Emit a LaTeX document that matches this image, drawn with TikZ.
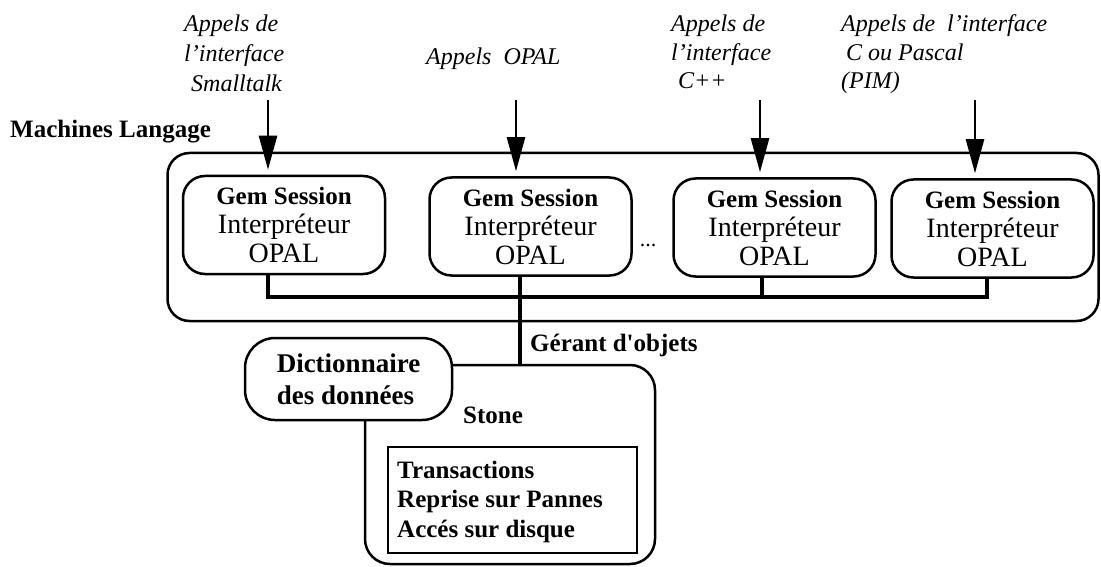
\documentclass[tikz,border=0pt]{standalone}
\usepackage{fontspec}
\setmainfont{Liberation Serif}
\usetikzlibrary{arrows.meta}
\begin{document}
\begin{tikzpicture}[x=1pt,y=-1pt,
  lbl/.style={font=\fontsize{24}{29}\selectfont\itshape, inner sep=0pt, anchor=base west},
  bl/.style={font=\fontsize{25}{29}\selectfont\bfseries, inner sep=0pt, anchor=base west},
  gem/.style={draw, line width=2.5pt, rounded corners=22pt, minimum width=202pt, minimum height=98pt, inner sep=0pt, align=center, font=\fontsize{28}{29}\selectfont},
  frame/.style={draw, line width=2.5pt, inner sep=0pt},
  arr/.style={line width=2.5pt, -{Triangle[length=34pt,width=18pt]}, shorten >=5pt},
  wire/.style={line width=4pt},
]
\useasboundingbox (0,0) rectangle (1101,567);

% outer container
\node[frame, rounded corners=22pt, minimum width=931pt, minimum height=168pt] (lang) at (633,237) {};
\node[bl] (mlang) at (10,138) {Machines Langage};

% gem sessions
\node[gem] (g1) at (284,225) {{\bfseries\fontsize{25}{29}\selectfont Gem Session}\\Interpréteur\\OPAL};
\node[gem] (g2) at (530.5,226.5) {{\bfseries\fontsize{25}{29}\selectfont Gem Session}\\Interpréteur\\OPAL};
\node[gem] (g3) at (774.5,227.5) {{\bfseries\fontsize{25}{29}\selectfont Gem Session}\\Interpréteur\\OPAL};
\node[gem] (g4) at (992.5,228.5) {{\bfseries\fontsize{25}{29}\selectfont Gem Session}\\Interpréteur\\OPAL};
\node[font=\fontsize{22}{26}\selectfont, inner sep=0pt, anchor=base] (dots) at (648,246) {...};

% top labels
\node[lbl] (l1a) at (184,32) {Appels de};
\node[lbl] (l1b) at (184,62) {l’interface};
\node[lbl] (l1c) at (191,92) {Smalltalk};
\node[lbl] (l2a) at (426,65) {Appels\ \ OPAL};
\node[lbl] (l3a) at (671,32) {Appels de};
\node[lbl] (l3b) at (671,61) {l’interface};
\node[lbl] (l3c) at (678,89) {C++};
\node[lbl] (l4a) at (841,32) {Appels de\ \ l’interface};
\node[lbl] (l4b) at (846,61) {C ou Pascal};
\node[lbl] (l4c) at (841,89) {(PIM)};

% arrows
\coordinate (a1) at (268,100);
\coordinate (a2) at (516,100);
\coordinate (a3) at (760,100);
\coordinate (a4) at (975,100);
\draw[arr] (a1) -- (a1 |- g1.north);
\draw[arr] (a2) -- (a2 |- g2.north);
\draw[arr] (a3) -- (a3 |- g3.north);
\draw[arr] (a4) -- (a4 |- g4.north);

% Stone and dictionary
\node[frame, rounded corners=25pt, minimum width=290pt, minimum height=199pt] (stone) at (510,464.5) {};
\node[frame, fill=white, rounded corners=30pt, minimum width=207pt, minimum height=82pt, align=left, font=\fontsize{27}{32}\selectfont\bfseries] (dict) at (348.5,379) {Dictionnaire\\des données};
\node[bl] (stlbl) at (463,423) {Stone};
\node[frame, minimum width=249pt, minimum height=106pt] (svc) at (512.5,500) {};
\node[bl] (t1) at (397,478) {Transactions};
\node[bl] (t2) at (397,507) {Reprise sur Pannes};
\node[bl] (t3) at (397,537) {Accés sur disque};

% bus
\coordinate (c1) at (268,297);
\coordinate (c2) at (520,297);
\coordinate (c3) at (762,297);
\coordinate (c4) at (987,297);
\draw[wire] (c1 |- g1.south) -- (c1) -- (c4) -- (c4 |- g4.south);
\draw[wire] (c3 |- g3.south) -- (c3);
\draw[wire] (c2 |- g2.south) -- (c2 |- stone.north);
\node[bl] (gerant) at (530,351) {Gérant d\textquotesingle objets};
\end{tikzpicture}
\end{document}
